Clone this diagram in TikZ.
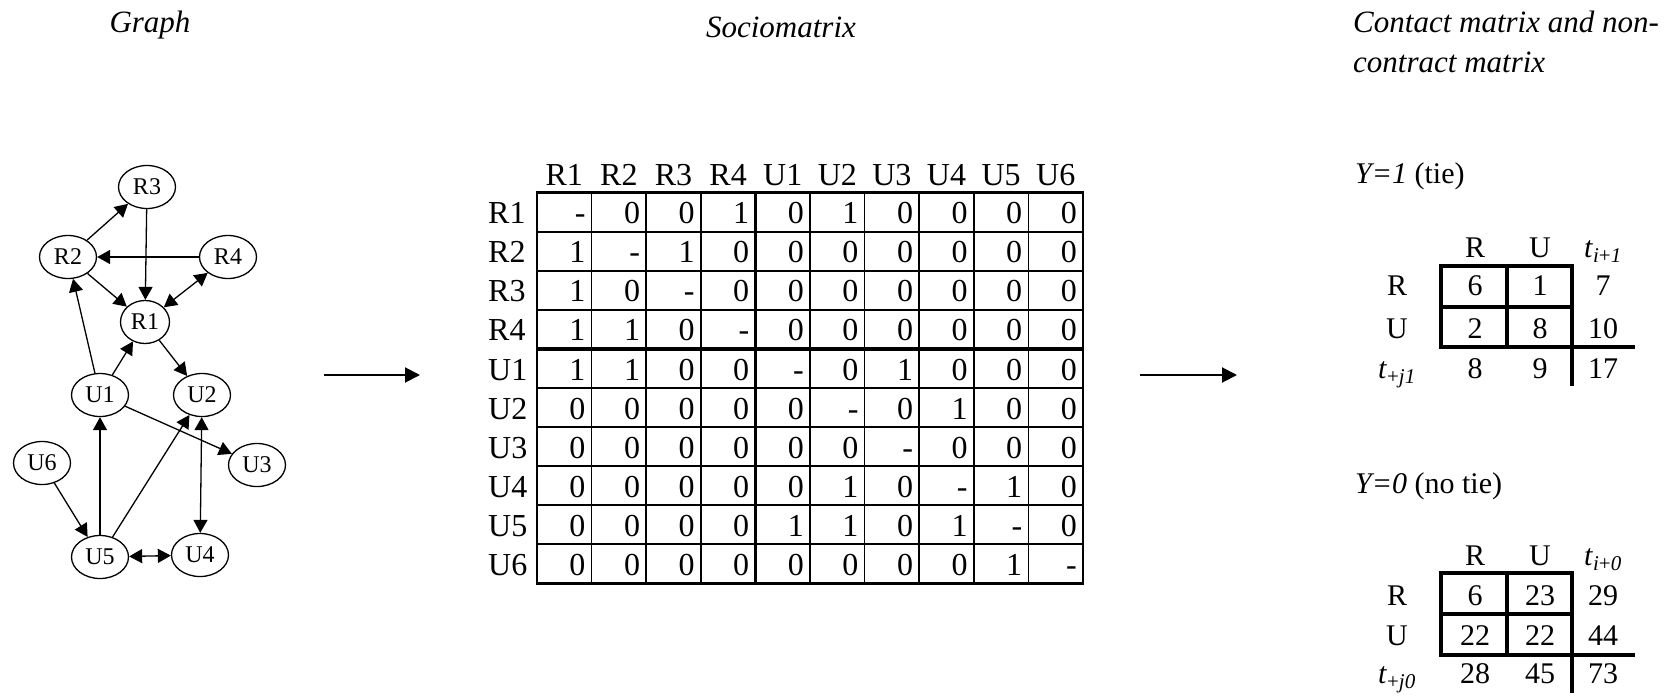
\documentclass[tikz,border=0pt]{standalone}
\usepackage{fontspec}
\setmainfont{Liberation Serif}
\usetikzlibrary{arrows.meta,shapes.geometric}
\begin{document}
\begin{tikzpicture}[x=1pt,y=-1pt,
  gnode/.style={draw,ellipse,line width=1.3pt,minimum width=57pt,minimum height=43pt,inner sep=0pt,font=\fontsize{24}{28}\selectfont},
  gedge/.style={line width=1.3pt,-{Triangle[length=13pt,width=14pt]}},
  gboth/.style={line width=1.3pt,{Triangle[length=13pt,width=14pt]}-{Triangle[length=13pt,width=14pt]}},
  titletext/.style={font=\fontsize{31}{37}\selectfont\itshape,inner sep=0pt},
  mtext/.style={font=\fontsize{32}{38}\selectfont,inner sep=0pt},
  ttext/.style={font=\fontsize{30}{34}\selectfont,inner sep=0pt,anchor=base},
  thin/.style={line width=1.6pt},
  thick2/.style={line width=2.6pt},
  sep/.style={line width=3.6pt},
  tline/.style={line width=3.3pt},
  bigarrow/.style={line width=2pt,-{Triangle[length=15pt,width=15pt]}}
]
\useasboundingbox (0,0) rectangle (1680,696);

% titles
\node[titletext,anchor=base] (tgraph) at (150,32) {Graph};
\node[titletext,anchor=base] (tsocio) at (781,37) {Sociomatrix};
\node[titletext,anchor=base west] (tcont1) at (1353,32) {Contact matrix and non-};
\node[titletext,anchor=base west] (tcont2) at (1353,72) {contract matrix};

% graph
\node[gnode] (R3) at (147,187) {R3};
\node[gnode] (R2) at (68,257) {R2};
\node[gnode] (R4) at (228,257) {R4};
\node[gnode,minimum width=49pt] (R1) at (145,322) {R1};
\node[gnode] (U1) at (100,395) {U1};
\node[gnode] (U2) at (202,395) {U2};
\node[gnode] (U3) at (257,465) {U3};
\node[gnode] (U6) at (42,463) {U6};
\node[gnode] (U5) at (100,557) {U5};
\node[gnode] (U4) at (200,555) {U4};

\draw[gedge] (R2) -- (R3);
\draw[gedge] (R3) -- (R1);
\draw[gedge] (R4) -- (R2);
\draw[gboth] (R4) -- (R1);
\draw[gedge] (R2) -- (R1);
\draw[gedge] (U1) -- (R2);
\draw[gedge] (U1) -- (R1);
\draw[gedge] (R1) -- (U2);
\draw[gedge] (U1) -- (U3);
\draw[gboth] (U2) -- (U4);
\draw[gedge] (U5) -- (U1);
\draw[gedge] (U5) -- (U2);
\draw[gedge] (U6) -- (U5);
\draw[gboth] (U5) -- (U4);

% arrows between panels
\coordinate (a1s) at (324,375);
\coordinate (a1e) at (420,375);
\coordinate (a2s) at (1140,375);
\coordinate (a2e) at (1237,375);
\draw[bigarrow] (a1s) -- (a1e);
\draw[bigarrow] (a2s) -- (a2e);

% sociomatrix
\def\mx{537}\def\mw{54.6}\def\my{192.7}\def\mh{39.06}
\foreach \h [count=\k from 0] in {R1,R2,R3,R4,U1,U2,U3,U4,U5,U6} {
  \node[mtext,anchor=base] (col-\k) at ({\mx+\mw*(\k+0.5)},185) {\h};
  \node[mtext,anchor=base west] (row-\k) at (488,{\my+\mh*(\k+1)-8}) {\h};
}
\foreach \r [count=\i from 0] in {
  {-,0,0,1,0,1,0,0,0,0},
  {1,-,1,0,0,0,0,0,0,0},
  {1,0,-,0,0,0,0,0,0,0},
  {1,1,0,-,0,0,0,0,0,0},
  {1,1,0,0,-,0,1,0,0,0},
  {0,0,0,0,0,-,0,1,0,0},
  {0,0,0,0,0,0,-,0,0,0},
  {0,0,0,0,0,1,0,-,1,0},
  {0,0,0,0,1,1,0,1,-,0},
  {0,0,0,0,0,0,0,0,1,-}} {
  \foreach \v [count=\j from 0] in \r {
    \node[mtext,anchor=base east] (cell-\i-\j) at ({\mx+\mw*(\j+1)-6},{\my+\mh*(\i+1)-8}) {\v};
  }
}
\foreach \k in {1,2,3,5,6,7,8,9} {
  \draw[thin] ({\mx+\mw*\k},\my) -- ({\mx+\mw*\k},{\my+\mh*10});
  \draw[thin] (\mx,{\my+\mh*\k}) -- ({\mx+\mw*10},{\my+\mh*\k});
}
\draw[sep] ({\mx+\mw*4},\my) -- ({\mx+\mw*4},{\my+\mh*10});
\draw[sep] (\mx,{\my+\mh*4}) -- ({\mx+\mw*10},{\my+\mh*4});
\draw[thick2] (\mx,\my) rectangle ({\mx+\mw*10},{\my+\mh*10});

% contact table Y=1
\node[ttext,anchor=base west] (y1) at (1355,183) {\textit{Y=1} (tie)};
\node[ttext] (a-hR) at (1475,257) {R};
\node[ttext] (a-hU) at (1540,257) {U};
\node[ttext] (a-ht) at (1603,257) {\textit{t}\textsubscript{\textit{i}+\textit{1}}};
\node[ttext] (a-rR) at (1397,295) {R};
\node[ttext] (a-rU) at (1397,338) {U};
\node[ttext] (a-rt) at (1397,378) {\textit{t}\textsubscript{+\textit{j1}}};
\node[ttext] (a-11) at (1475,295) {6};
\node[ttext] (a-12) at (1540,295) {1};
\node[ttext] (a-13) at (1603,295) {7};
\node[ttext] (a-21) at (1475,338) {2};
\node[ttext] (a-22) at (1540,338) {8};
\node[ttext] (a-23) at (1603,338) {10};
\node[ttext] (a-31) at (1475,378) {8};
\node[ttext] (a-32) at (1540,378) {9};
\node[ttext] (a-33) at (1603,378) {17};
\draw[tline] (1441,266) rectangle (1572,347);
\draw[tline] (1507,266) -- (1507,347);
\draw[tline] (1441,307) -- (1572,307);
\draw[tline] (1572,347) -- (1635,347);
\draw[tline] (1572,347) -- (1572,386);

% non-contact table Y=0
\node[ttext,anchor=base west] (y0) at (1355,493) {\textit{Y=0} (no tie)};
\node[ttext] (b-hR) at (1475,565) {R};
\node[ttext] (b-hU) at (1540,565) {U};
\node[ttext] (b-ht) at (1603,565) {\textit{t}\textsubscript{\textit{i}+\textit{0}}};
\node[ttext] (b-rR) at (1397,605) {R};
\node[ttext] (b-rU) at (1397,645) {U};
\node[ttext] (b-rt) at (1397,683) {\textit{t}\textsubscript{+\textit{j0}}};
\node[ttext] (b-11) at (1475,605) {6};
\node[ttext] (b-12) at (1540,605) {23};
\node[ttext] (b-13) at (1603,605) {29};
\node[ttext] (b-21) at (1475,645) {22};
\node[ttext] (b-22) at (1540,645) {22};
\node[ttext] (b-23) at (1603,645) {44};
\node[ttext] (b-31) at (1475,683) {28};
\node[ttext] (b-32) at (1540,683) {45};
\node[ttext] (b-33) at (1603,683) {73};
\draw[tline] (1441,573) rectangle (1572,655);
\draw[tline] (1507,573) -- (1507,655);
\draw[tline] (1441,614) -- (1572,614);
\draw[tline] (1572,655) -- (1635,655);
\draw[tline] (1572,655) -- (1572,693);
\end{tikzpicture}
\end{document}
